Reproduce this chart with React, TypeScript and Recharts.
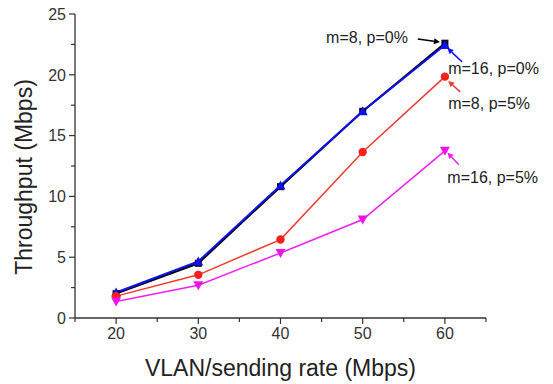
import React from 'react';
import { LineChart, Line, XAxis, YAxis, ReferenceLine, ReferenceDot } from 'recharts';

// ---- data ----
const rates = [20, 30, 40, 50, 60];
const m8p0 = [2.0, 4.5, 10.8, 17.0, 22.6];
const m16p0 = [2.1, 4.65, 10.9, 17.0, 22.45];
const m8p5 = [1.8, 3.55, 6.45, 13.65, 19.85];
const m16p5 = [1.35, 2.7, 5.35, 8.1, 13.75];

const xTicks = [15, 20, 25, 30, 35, 40, 45, 50, 55, 60, 65];
const xLabelTicks = [20, 30, 40, 50, 60];
const yTicks = [0, 2.5, 5, 7.5, 10, 12.5, 15, 17.5, 20, 22.5, 25];
const yLabelTicks = [0, 5, 10, 15, 20, 25];

const seriesNames = ['m=8, p=0%', 'm=16, p=0%', 'm=8, p=5%', 'm=16, p=5%'];

const data = rates.map((r, i) => ({
  rate: r,
  a: m8p0[i],
  b: m16p0[i],
  c: m8p5[i],
  d: m16p5[i],
}));

// annotation placement (data units)
const annotations = [
  { text: seriesNames[0], color: '#000000', tx: 55.5, ty: 23.1, anchor: 'end', from: [56.7, 22.95], to: [59.4, 22.7] },
  { text: seriesNames[1], color: '#1010f0', tx: 60.4, ty: 20.55, anchor: 'start', from: [62.1, 21.05], to: [60.3, 22.2] },
  { text: seriesNames[2], color: '#f03a2e', tx: 60.4, ty: 17.7, anchor: 'start', from: [61.85, 18.6], to: [60.4, 19.5] },
  { text: seriesNames[3], color: '#f020f0', tx: 60.3, ty: 11.6, anchor: 'start', from: [61.7, 12.6], to: [60.3, 13.6] },
];

const AXIS = '#333333';
const FONT = '"Liberation Sans", Arial, sans-serif';

const XTick = (props: any) => {
  const { x, y, payload } = props;
  const major = xLabelTicks.includes(payload.value);
  const ay = y - 10;
  return (
    <g>
      <line x1={x} y1={ay} x2={x} y2={ay + (major ? 6 : 4)} stroke={AXIS} strokeWidth={1.2} />
      {major && (
        <text x={x} y={y} dy="0.71em" textAnchor="middle" fill="#333" fontSize={16} fontFamily={FONT}>
          {payload.value}
        </text>
      )}
    </g>
  );
};

const YTick = (props: any) => {
  const { x, y, payload } = props;
  const major = yLabelTicks.includes(payload.value);
  const ax = x + 9;
  return (
    <g>
      <line x1={ax} y1={y} x2={ax - (major ? 6 : 4)} y2={y} stroke={AXIS} strokeWidth={1.2} />
      {major && (
        <text x={x} y={y} dy="0.36em" textAnchor="end" fill="#333" fontSize={16} fontFamily={FONT}>
          {payload.value}
        </text>
      )}
    </g>
  );
};

const squareDot = (color: string) => (p: any) => (
  <rect key={`s${p.index}`} x={p.cx - 3.5} y={p.cy - 3.5} width={7} height={7} fill={color} />
);
const circleDot = (color: string) => (p: any) => (
  <circle key={`c${p.index}`} cx={p.cx} cy={p.cy} r={4.2} fill={color} />
);
const triUpDot = (color: string) => (p: any) => (
  <path key={`u${p.index}`} d={`M${p.cx},${p.cy - 5} L${p.cx + 5},${p.cy + 4} L${p.cx - 5},${p.cy + 4} Z`} fill={color} />
);
const triDownDot = (color: string) => (p: any) => (
  <path key={`d${p.index}`} d={`M${p.cx},${p.cy + 5} L${p.cx + 5},${p.cy - 4} L${p.cx - 5},${p.cy - 4} Z`} fill={color} />
);

const arrowShape = (color: string) => (p: any) => {
  const { x1, y1, x2, y2 } = p;
  const ang = Math.atan2(y2 - y1, x2 - x1);
  const L = 6;
  const W = 3;
  const bx = x2 - L * Math.cos(ang);
  const by = y2 - L * Math.sin(ang);
  const px = -Math.sin(ang) * W;
  const py = Math.cos(ang) * W;
  return (
    <g>
      <line x1={x1} y1={y1} x2={bx} y2={by} stroke={color} strokeWidth={1.5} />
      <path d={`M${x2},${y2} L${bx + px},${by + py} L${bx - px},${by - py} Z`} fill={color} />
    </g>
  );
};

const textShape = (text: string, anchor: string) => (p: any) => (
  <text x={p.cx} y={p.cy} dy="0.36em" textAnchor={anchor as any} fill="#222" fontSize={16} fontFamily={FONT}>
    {text}
  </text>
);

export default function App() {
  return (
    <div style={{ position: 'absolute', left: 0, top: 0, width: 553, height: 384, background: '#fff' }}>
      <LineChart width={553} height={384} data={data} margin={{ top: 14, right: 67, bottom: 0, left: 0 }}>
        <XAxis
          dataKey="rate"
          type="number"
          domain={[15, 65]}
          ticks={xTicks}
          interval={0}
          tickSize={6}
          tickMargin={4}
          tickLine={false}
          height={66}
          axisLine={{ stroke: AXIS, strokeWidth: 1.3 }}
          tick={<XTick />}
          label={(p: any) => {
            const vb = p.viewBox;
            return (
              <text x={vb.x + vb.width / 2} y={vb.y + 58} textAnchor="middle" fill="#222" fontSize={23} fontFamily={FONT}>
                VLAN/sending rate (Mbps)
              </text>
            );
          }}
        />
        <YAxis
          type="number"
          domain={[0, 25]}
          ticks={yTicks}
          interval={0}
          tickSize={6}
          tickMargin={3}
          tickLine={false}
          width={75}
          axisLine={{ stroke: AXIS, strokeWidth: 1.3 }}
          tick={<YTick />}
          label={(p: any) => {
            const vb = p.viewBox;
            const cy = vb.y + vb.height / 2 + 11;
            return (
              <text transform={`translate(${vb.x + 32}, ${cy}) rotate(-90)`} textAnchor="middle" fill="#222" fontSize={23} fontFamily={FONT}>
                Throughput (Mbps)
              </text>
            );
          }}
        />
        <Line type="linear" dataKey="a" name={seriesNames[0]} stroke="#000000" strokeWidth={2} dot={squareDot('#000000')} isAnimationActive={false} />
        <Line type="linear" dataKey="b" name={seriesNames[1]} stroke="#1010f0" strokeWidth={2} dot={triUpDot('#1010f0')} isAnimationActive={false} />
        <Line type="linear" dataKey="c" name={seriesNames[2]} stroke="#f03a2e" strokeWidth={1.5} dot={circleDot('#f8201a')} isAnimationActive={false} />
        <Line type="linear" dataKey="d" name={seriesNames[3]} stroke="#f020f0" strokeWidth={1.5} dot={triDownDot('#f010f0')} isAnimationActive={false} />
        {annotations.map((a, i) => (
          <ReferenceLine
            key={`al${i}`}
            segment={[{ x: a.from[0], y: a.from[1] }, { x: a.to[0], y: a.to[1] }]}
            ifOverflow="visible"
            shape={arrowShape(a.color)}
          />
        ))}
        {annotations.map((a, i) => (
          <ReferenceDot
            key={`at${i}`}
            x={a.tx}
            y={a.ty}
            r={0}
            ifOverflow="visible"
            shape={textShape(a.text, a.anchor)}
          />
        ))}
      </LineChart>
    </div>
  );
}
